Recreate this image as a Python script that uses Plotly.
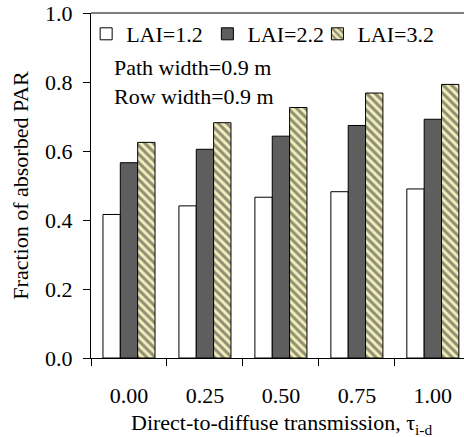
import plotly.graph_objects as go

categories = ["0.00", "0.25", "0.50", "0.75", "1.00"]
lai_12 = [0.416, 0.441, 0.466, 0.482, 0.490]
lai_22 = [0.566, 0.605, 0.643, 0.674, 0.692]
lai_32 = [0.625, 0.682, 0.726, 0.768, 0.793]
series_names = ["LAI=1.2", "LAI=2.2", "LAI=3.2"]
y_ticks = [0.0, 0.2, 0.4, 0.6, 0.8, 1.0]

FONT = "Liberation Serif, Times New Roman, serif"

fig = go.Figure()
fig.add_trace(go.Bar(
    x=categories, y=lai_12, name=series_names[0], legend="legend",
    marker=dict(color="white", line=dict(color="black", width=1)),
))
fig.add_trace(go.Bar(
    x=categories, y=lai_22, name=series_names[1], legend="legend2",
    marker=dict(color="#5e5e5e", line=dict(color="black", width=1)),
))
fig.add_trace(go.Bar(
    x=categories, y=lai_32, name=series_names[2], legend="legend3",
    marker=dict(color="#f2efbb", line=dict(color="black", width=1),
                pattern=dict(shape="\\", fgcolor="#2e2e2e", bgcolor="#f2efbb",
                             size=6, solidity=0.5, fillmode="overlay")),
))

def leg(x):
    return dict(orientation="h", x=x, xanchor="left", y=1.0, yanchor="top",
                bgcolor="rgba(0,0,0,0)", font=dict(size=22), itemwidth=30)

fig.update_layout(
    width=464, height=437,
    margin=dict(l=91, r=0, t=13, b=79),
    paper_bgcolor="white", plot_bgcolor="white",
    font=dict(family=FONT, size=22, color="black"),
    barmode="group", bargap=0.315, bargroupgap=0,
    showlegend=True,
    legend=leg(-0.013), legend2=leg(0.312), legend3=leg(0.607),
    xaxis=dict(
        type="category", range=[-0.5, 4.41],
        showline=True, linecolor="black", linewidth=1,
        ticks="outside", ticklen=7, tickcolor="black", tickson="boundaries",
        ticklabelstandoff=18,
        showgrid=False, zeroline=False,
        tickfont=dict(size=22),
    ),
    yaxis=dict(
        range=[0, 1], tickvals=y_ticks, tickformat=".1f",
        showline=True, linecolor="black", linewidth=1,
        ticks="outside", ticklen=7, tickcolor="black",
        ticklabelstandoff=6,
        showgrid=False, zeroline=False,
        title=dict(text="Fraction of absorbed PAR", font=dict(size=22), standoff=10),
        tickfont=dict(size=22),
    ),
    yaxis2=dict(
        range=[0, 1], tickvals=y_ticks, overlaying="y", anchor="x", side="left",
        showline=False, ticks="inside", ticklen=3, tickcolor="black",
        showticklabels=False, showgrid=False, zeroline=False,
    ),
    shapes=[dict(type="line", xref="paper", yref="paper", x0=0, x1=1, y0=1, y1=1,
                 line=dict(color="black", width=1))],
    annotations=[
        dict(text="Path width=0.9 m", xref="paper", yref="paper", x=0.056, y=0.843,
             xanchor="left", yanchor="middle", showarrow=False, font=dict(size=22)),
        dict(text="Row width=0.9 m", xref="paper", yref="paper", x=0.056, y=0.757,
             xanchor="left", yanchor="middle", showarrow=False, font=dict(size=22)),
        dict(text="Direct-to-diffuse transmission, τ<sub>i-d</sub>",
             xref="paper", yref="paper", x=0.512, y=-0.19,
             xanchor="center", yanchor="middle", showarrow=False, font=dict(size=22)),
    ],
)

fig.write_html("out.html", config={"displayModeBar": False},
               post_script="document.body.style.margin='0';")
